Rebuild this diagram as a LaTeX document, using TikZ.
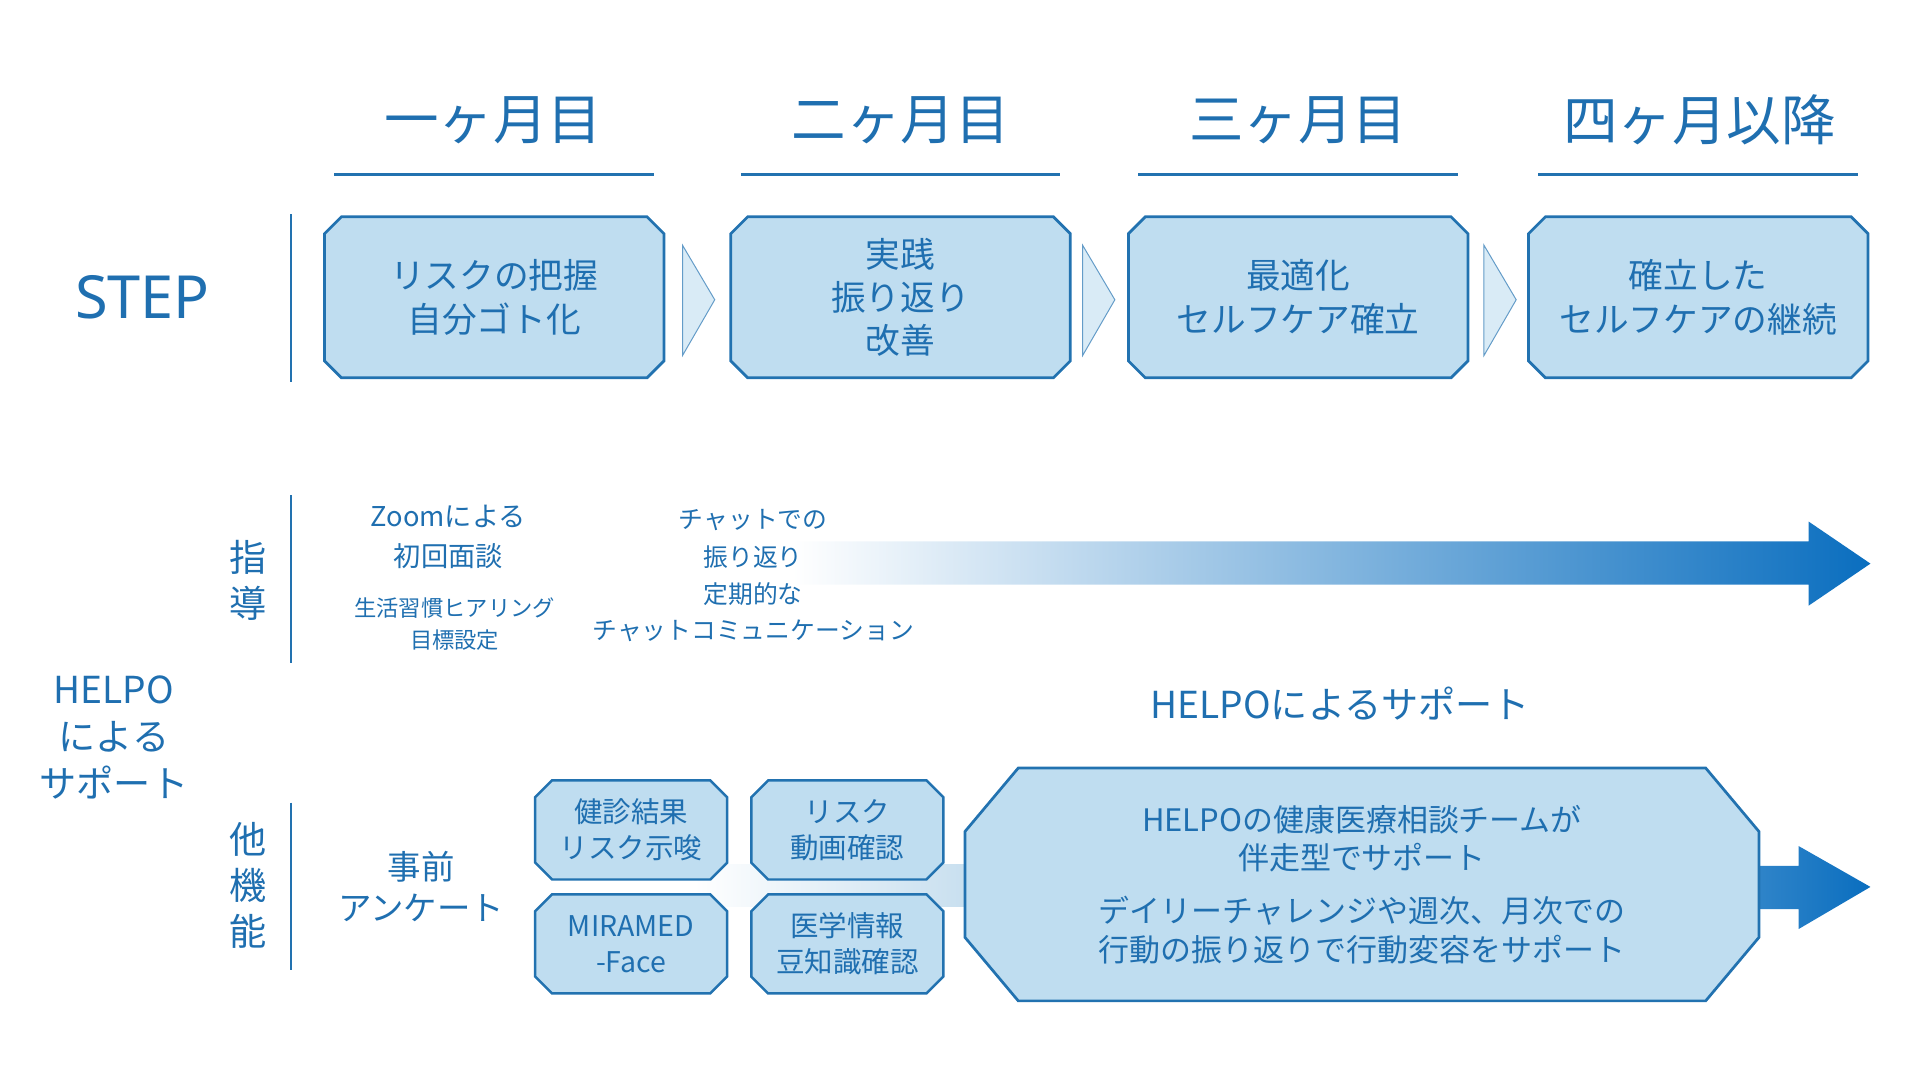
\documentclass[tikz,border=0pt]{standalone}
\usepackage{fontspec}
\setmainfont{Noto Sans CJK JP}
\usetikzlibrary{shapes.misc}
\definecolor{tx}{HTML}{1F6FB0}
\definecolor{bd}{HTML}{2272B0}
\definecolor{fl}{HTML}{BFDDF0}
\definecolor{ar}{HTML}{0A6EBF}
\tikzset{
 fs/.style={font=\fontsize{#1}{#1}\selectfont},
 t/.style={text=tx,inner sep=0pt,align=center},
 stepbox/.style={chamfered rectangle,chamfered rectangle xsep=10pt,chamfered rectangle angle=45,draw=bd,line width=2.2pt,fill=fl,minimum width=274pt,minimum height=130pt,text=tx,align=center,font=\fontsize{28}{35}\selectfont},
 smallbox/.style={chamfered rectangle,chamfered rectangle xsep=10pt,chamfered rectangle angle=45,draw=bd,line width=2pt,fill=fl,minimum width=155pt,minimum height=80pt,text=tx,align=center,font=\fontsize{23}{29}\selectfont},
 vline/.style={draw=bd,line width=2pt},
 uline/.style={draw=bd,line width=2.5pt},
}
\begin{document}
\begin{tikzpicture}[x=1pt,y=-1pt]
\useasboundingbox (0,0) rectangle (1550,872);
% headings
\foreach \x/\l/\a/\b in {398/一ヶ月目/270/528, 727/二ヶ月目/598/856, 1048/三ヶ月目/919/1177, 1372/四ヶ月以降/1242/1500}{
  \node[t,fs=44] at (\x,97) {\l};
  \draw[uline] (\a,141) -- (\b,141);
}
\node[t,fs=48,font=\fontsize{48}{48}\selectfont\fontspec{Noto Sans}] (step) at (115,240) {STEP};
\draw[vline] (235,173) -- (235,308);
\node[stepbox] (s1) at (399,240) {リスクの把握\\自分ゴト化};
\node[stepbox] (s2) at (727,240) {実践\\振り返り\\改善};
\node[stepbox] (s3) at (1048,240) {最適化\\セルフケア確立};
\node[stepbox] (s4) at (1371,240) {確立した\\セルフケアの継続};
\foreach \x in {551,874,1198}{
  \draw[draw=bd!70,fill=fl!60,line width=0.8pt] (\x,198) -- (\x+26,242) -- (\x,287) -- cycle;
}
% 指導
\draw[vline] (235,400) -- (235,535);
\node[t,fs=30] at (200,450) {指};
\node[t,fs=30] at (200,487) {導};
\node[t,fs=22] at (362,417) {Zoomによる};
\node[t,fs=22] at (362,449) {初回面談};
\node[t,fs=18] at (367,491) {生活習慣ヒアリング};
\node[t,fs=18] at (367,517) {目標設定};
\shade[left color=white,right color=ar] (640,437) -- (1460,437) -- (1460,421) -- (1510,455) -- (1460,489) -- (1460,472) -- (640,472) -- cycle;
\node[t,fs=20] at (608,420) {チャットでの};
\node[t,fs=20] at (608,450) {振り返り};
\node[t,fs=20] at (608,480) {定期的な};
\node[t,fs=20] at (608,509) {チャットコミュニケーション};
% HELPO
\node[t,fs=30] at (92,557) {HELPO};
\node[t,fs=30] at (92,595) {による};
\node[t,fs=30] at (92,632) {サポート};
\node[t,fs=30] at (1082,568) {HELPOによるサポート};
% 他機能
\draw[vline] (235,648) -- (235,783);
\node[t,fs=30] at (200,678) {他};
\node[t,fs=30] at (200,715) {機};
\node[t,fs=30] at (200,752) {能};
\node[t,fs=27] at (340,700) {事前};
\node[t,fs=27] at (340,733) {アンケート};
\shade[left color=white,right color=fl!80!bd!60] (560,698) rectangle (790,732);
\node[smallbox] (b1) at (509.5,670) {健診結果\\リスク示唆};
\node[smallbox] (b2) at (684,670) {リスク\\動画確認};
\node[smallbox] (b3) at (509.5,762) {MIRAMED\\-Face};
\node[smallbox] (b4) at (684,762) {医学情報\\豆知識確認};
\shade[left color=ar!85,right color=ar] (1420,699) -- (1452,699) -- (1452,683) -- (1510,716) -- (1452,750) -- (1452,734) -- (1420,734) -- cycle;
\node[chamfered rectangle,chamfered rectangle xsep=40pt,chamfered rectangle angle=40,draw=bd,line width=2.2pt,fill=fl,minimum width=641pt,minimum height=188pt,text=tx,align=center,font=\fontsize{25}{31}\selectfont] (big) at (1099.5,714) {HELPOの健康医療相談チームが\\伴走型でサポート\\[12pt]デイリーチャレンジや週次、月次での\\行動の振り返りで行動変容をサポート};
\end{tikzpicture}
\end{document}
